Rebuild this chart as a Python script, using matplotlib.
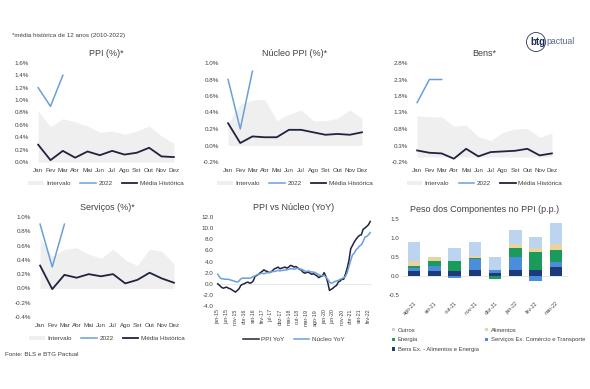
import matplotlib
matplotlib.use("Agg")
import matplotlib.pyplot as plt
import numpy as np
from matplotlib.patches import Ellipse

plt.rcParams['font.family'] = ['Liberation Sans', 'DejaVu Sans']

W, H = 590, 389
months = ["Jan", "Fev", "Mar", "Abr", "Mai", "Jun", "Jul", "Ago", "Set", "Out", "Nov", "Dez"]

# PPI (%)
ppi_band_hi = [0.82, 0.57, 0.70, 0.65, 0.58, 0.48, 0.50, 0.45, 0.50, 0.58, 0.42, 0.30]
ppi_band_lo = [0.0] * 12
ppi_2022 = [1.2, 0.9, 1.4]
ppi_media = [0.28, 0.03, 0.18, 0.07, 0.17, 0.11, 0.18, 0.12, 0.15, 0.23, 0.09, 0.08]

# Núcleo PPI (%)
nuc_band_hi = [0.27, 0.50, 0.55, 0.56, 0.30, 0.38, 0.43, 0.30, 0.30, 0.33, 0.43, 0.33]
nuc_band_lo = [0.0] * 12
nuc_2022 = [0.8, 0.2, 0.9]
nuc_media = [0.27, 0.03, 0.11, 0.10, 0.10, 0.19, 0.19, 0.16, 0.13, 0.14, 0.13, 0.16]

# Bens
bens_band_hi = [1.20, 1.17, 1.17, 0.88, 0.92, 0.57, 0.45, 0.70, 0.80, 0.82, 0.55, 0.68]
bens_band_lo = [-0.05] * 12
bens_2022 = [1.6, 2.3, 2.3]
bens_media = [0.15, 0.08, 0.06, -0.10, 0.20, -0.03, 0.10, 0.12, 0.14, 0.20, 0.00, 0.06]

# Serviços
serv_band_hi = [0.70, 0.45, 0.55, 0.57, 0.48, 0.42, 0.55, 0.40, 0.32, 0.55, 0.52, 0.35]
serv_band_lo = [0.0] * 12
serv_2022 = [0.9, 0.3, 0.9]
serv_media = [0.32, -0.01, 0.19, 0.15, 0.20, 0.17, 0.20, 0.07, 0.12, 0.22, 0.14, 0.08]

# PPI vs Núcleo (YoY), jan-15 .. mar-22
ppi_yoy = [0.0, -0.3, -0.6, -0.8, -0.7, -0.6, -0.8, -0.9, -1.1, -1.3, -1.5, -1.2,
           -0.9, -0.3, -0.1, 0.0, 0.2, 0.3, 0.1, 0.2, 0.5, 1.3, 1.5, 1.7,
           2.0, 2.2, 2.5, 2.3, 2.2, 2.0, 2.1, 2.4, 2.7, 2.8, 3.0, 2.7,
           2.8, 2.9, 3.0, 2.8, 3.0, 3.3, 3.2, 3.0, 3.1, 2.9, 2.6, 2.5,
           2.1, 1.9, 2.0, 2.1, 1.9, 1.7, 1.8, 1.6, 1.4, 1.1, 1.3, 1.4,
           2.0, 1.3, 0.3, -1.2, -1.0, -0.8, -0.5, -0.3, 0.3, 0.5, 0.8, 0.8,
           1.7, 2.8, 4.2, 6.3, 6.9, 7.5, 8.0, 8.4, 8.7, 8.8, 9.8, 10.0,
           10.3, 10.6, 11.2]
nucleo_yoy = [1.7, 1.2, 0.9, 0.9, 0.8, 0.8, 0.8, 0.7, 0.6, 0.5, 0.4, 0.3,
              0.5, 0.9, 1.0, 1.0, 1.0, 1.0, 1.0, 1.1, 1.3, 1.4, 1.6, 1.7,
              1.8, 1.9, 1.8, 1.9, 2.0, 2.0, 2.1, 2.2, 2.2, 2.3, 2.4, 2.3,
              2.4, 2.4, 2.5, 2.5, 2.6, 2.7, 2.7, 2.6, 2.7, 2.8, 2.7, 2.6,
              2.5, 2.3, 2.2, 2.3, 2.2, 2.1, 2.1, 2.0, 1.8, 1.6, 1.5, 1.4,
              1.5, 1.2, 0.8, 0.3, 0.1, 0.2, 0.4, 0.5, 0.6, 0.8, 0.9, 1.1,
              1.3, 2.0, 3.1, 4.2, 5.2, 5.5, 6.1, 6.4, 6.8, 7.0, 7.6, 8.4,
              8.5, 8.8, 9.2]
mabbr = ["jan", "fev", "mar", "abr", "mai", "jun", "jul", "ago", "set", "out", "nov", "dez"]
yoy_labels = [f"{mabbr[i % 12]}-{15 + i // 12}" for i in range(len(ppi_yoy))]

# Peso dos Componentes no PPI (p.p.)
bar_cats = ["ago-21", "set-21", "out-21", "nov-21", "dez-21", "jan-22", "fev-22", "mar-22"]
bens_ex = [0.13, 0.13, 0.14, 0.17, 0.08, 0.17, 0.16, 0.23]
servicos_ex = [0.07, 0.14, -0.04, 0.28, 0.08, 0.32, -0.12, 0.13]
energia = [0.07, 0.12, 0.25, 0.03, -0.09, 0.25, 0.46, 0.33]
alimentos = [0.13, 0.11, 0.01, 0.05, 0.01, 0.09, 0.12, 0.15]
outros = [0.50, 0.01, 0.35, 0.37, 0.33, 0.37, 0.28, 0.56]

C_2022 = "#6a9fd9"
C_MED = "#20233f"
C_BAND = "#efefef"
TXT = "#404040"

fig = plt.figure(figsize=(W / 100, H / 100), dpi=100)
fig.patch.set_facecolor("white")


def axpx(x0, y0, x1, y1):
    return fig.add_axes([x0 / W, 1 - y1 / H, (x1 - x0) / W, (y1 - y0) / H])


def clean(ax):
    for s in ax.spines.values():
        s.set_visible(False)
    ax.tick_params(length=0, labelsize=4.5, colors=TXT, pad=2)


def month_panel(box, title, lo, hi, y2022, media, ylim, yticks):
    ax = axpx(*box)
    x = np.arange(12)
    ax.fill_between(x, lo, hi, color=C_BAND, lw=0, label="Intervalo")
    ax.plot(x[:len(y2022)], y2022, color=C_2022, lw=1.1, label="2022")
    ax.plot(x, media, color=C_MED, lw=1.3, label="Média Histórica")
    ax.set_xlim(-0.5, 11.5)
    ax.set_ylim(*ylim)
    ax.set_yticks(yticks)
    ax.set_yticklabels([f"{v:.1f}%" for v in yticks])
    ax.set_xticks(x)
    ax.set_xticklabels(months)
    clean(ax)
    ax.tick_params(axis="x", pad=4)
    ax.set_title(title, fontsize=6.5, color=TXT, pad=5)
    leg = ax.legend(loc="upper center", bbox_to_anchor=(0.5, -0.13), ncol=3, frameon=False,
                    fontsize=4.6, handlelength=2.4, columnspacing=1.5, handletextpad=0.4)
    for t in leg.get_texts():
        t.set_color(TXT)
    return ax


month_panel((38 - 6, 63, 174 + 6, 162), "PPI (%)*", ppi_band_lo, ppi_band_hi, ppi_2022, ppi_media,
            (0, 1.6), np.arange(0, 1.61, 0.2))
month_panel((228 - 6, 63, 362 + 6, 162), "Núcleo PPI (%)*", nuc_band_lo, nuc_band_hi, nuc_2022, nuc_media,
            (-0.2, 1.0), np.arange(-0.2, 1.01, 0.2))
month_panel((417 - 6, 63, 552 + 6, 162), "Bens*", bens_band_lo, bens_band_hi, bens_2022, bens_media,
            (-0.2, 2.8), np.arange(-0.2, 2.81, 0.5))
month_panel((40 - 6, 217, 174 + 6, 317), "Serviços (%)*", serv_band_lo, serv_band_hi, serv_2022, serv_media,
            (-0.4, 1.0), np.arange(-0.4, 1.01, 0.2))

# YoY panel
ax = axpx(216, 217, 372, 306)
xi = np.arange(len(ppi_yoy))
ax.axhline(0, color="#e3e3e3", lw=0.6)
ax.plot(xi, ppi_yoy, color=C_MED, lw=1.1, label="PPI YoY")
ax.plot(xi, nucleo_yoy, color=C_2022, lw=1.1, label="Núcleo YoY")
ax.set_ylim(-4, 12)
ax.set_yticks(np.arange(-4, 12.1, 2))
ax.set_yticklabels([f"{v:.1f}" for v in np.arange(-4, 12.1, 2)])
ax.set_xlim(-1, len(ppi_yoy))
ax.set_xticks(xi[::5])
ax.set_xticklabels([yoy_labels[i] for i in xi[::5]], rotation=90)
clean(ax)
ax.tick_params(axis="x", labelsize=3.8)
ax.set_title("PPI vs Núcleo (YoY)", fontsize=6.5, color=TXT, pad=5)
leg = ax.legend(loc="upper center", bbox_to_anchor=(0.5, -0.28), ncol=2, frameon=False,
                fontsize=4.6, handlelength=2.4, columnspacing=1.5, handletextpad=0.4)
for t in leg.get_texts():
    t.set_color(TXT)

# Stacked bar panel
ax = axpx(402, 219, 568, 295)
xb = np.arange(len(bar_cats))
series = [("Bens Ex. - Alimentos e Energia", bens_ex, "#1d3a7a"),
          ("Serviços Ex. Comércio e Transporte", servicos_ex, "#4a8edb"),
          ("Energia", energia, "#1a9a5b"),
          ("Alimentos", alimentos, "#e7d2a0"),
          ("Outros", outros, "#bcd4ef")]
pos = np.zeros(len(bar_cats))
neg = np.zeros(len(bar_cats))
handles = {}
ax.axhline(0, color="#e3e3e3", lw=0.6, zorder=0)
for name, vals, col in series:
    v = np.array(vals)
    bottom = np.where(v >= 0, pos, neg)
    h = ax.bar(xb, v, bottom=bottom, width=0.62, color=col, label=name, zorder=2)
    handles[name] = h
    pos = pos + np.where(v >= 0, v, 0)
    neg = neg + np.where(v < 0, v, 0)
ax.set_ylim(-0.5, 1.5)
ax.set_yticks([-0.5, 0.0, 0.5, 1.0, 1.5])
ax.set_yticklabels(["-0.5", "0.0", "0.5", "1.0", "1.5"])
ax.set_xlim(-0.6, len(bar_cats) - 0.4)
ax.set_xticks(xb)
ax.set_xticklabels(bar_cats, rotation=45, ha="right", rotation_mode="anchor")
clean(ax)
ax.tick_params(axis="x", labelsize=3.8, pad=4)
ax.set_title("Peso dos Componentes no PPI (p.p.)", fontsize=6.5, color=TXT, pad=5)
order = ["Outros", "Energia", "Bens Ex. - Alimentos e Energia", "Alimentos", "Serviços Ex. Comércio e Transporte"]
leg = ax.legend([handles[n] for n in order], order, loc="upper left", bbox_to_anchor=(-0.09, -0.36),
                ncol=2, frameon=False, fontsize=4.2, handlelength=0.5, handleheight=0.5,
                handletextpad=0.4, columnspacing=1.2, labelspacing=0.8)
for t in leg.get_texts():
    t.set_color(TXT)

# texts
fig.text(12 / W, 1 - 36 / H, "*média histórica de 12 anos (2010-2022)", fontsize=4.5, color=TXT, va="center")
fig.text(5 / W, 1 - 355 / H, "Fonte: BLS e BTG Pactual", fontsize=4.5, color=TXT, va="center")

# logo
circ = Ellipse((536 / W, 1 - 42 / H), 19 / W, 19 / H, transform=fig.transFigure, fill=False,
               ec="#2a3560", lw=0.6)
fig.add_artist(circ)
fig.text(530 / W, 1 - 42 / H, "btg", fontsize=7.0, fontweight="bold", color="#1c2a55", va="center", ha="left")
fig.text(546 / W, 1 - 42 / H, "pactual", fontsize=6.3, color="#5a6a8a", va="center", ha="left")

fig.savefig("out.png", dpi=100, facecolor="white")
